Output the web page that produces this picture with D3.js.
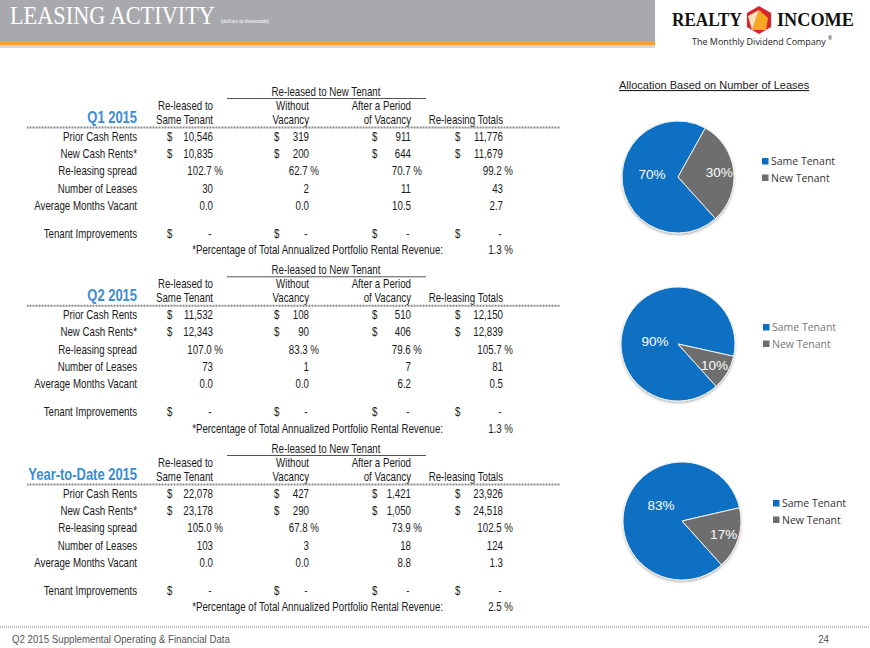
<!DOCTYPE html>
<html>
<head>
<meta charset="utf-8">
<script src="https://cdn.jsdelivr.net/npm/d3@7"></script>
<style>
  html, body { margin: 0; padding: 0; background: #fff; }
  svg { display: block; }
  .tbl { font-family: 'Liberation Sans', Arial, sans-serif; font-size: 12px; fill: #1a1a1a; }
</style>
</head>
<body>
<div id="chart"></div>
<script>
// ---- data (dollars in thousands) ----
var periods = ['Q1 2015', 'Q2 2015', 'Year-to-Date 2015'];
var rowLabels = ['Prior Cash Rents', 'New Cash Rents*', 'Re-leasing spread',
  'Number of Leases', 'Average Months Vacant', 'Tenant Improvements'];
var colHeads = [['Re-leased to', 'Same Tenant'], ['Without', 'Vacancy'],
  ['After a Period', 'of Vacancy'], ['', 'Re-leasing Totals']];
var groupHead = 'Re-leased to New Tenant';

var priorRents = [[10546, 319, 911, 11776], [11532, 108, 510, 12150], [22078, 427, 1421, 23926]];
var newRents = [[10835, 200, 644, 11679], [12343, 90, 406, 12839], [23178, 290, 1050, 24518]];
var spread = [[102.7, 62.7, 70.7, 99.2], [107.0, 83.3, 79.6, 105.7], [105.0, 67.8, 73.9, 102.5]];
var leases = [[30, 2, 11, 43], [73, 1, 7, 81], [103, 3, 18, 124]];
var monthsVacant = [[0.0, 0.0, 10.5, 2.7], [0.0, 0.0, 6.2, 0.5], [0.0, 0.0, 8.8, 1.3]];
var pctRevenue = [1.3, 1.3, 2.5];

var pieLabels = ['Same Tenant', 'New Tenant'];
var pieColors = ['#0a6fc2', '#6e6e6e'];

// ---- layout ----
var width = 870, height = 648;
var narrow = 0.81; // the table font is a narrow Arial
var sectionOffset = [0, 178.3, 357];
var colRight = [213, 309, 411, 503];
var colDollar = [167, 274, 372, 455];
var colPct = [223, 319, 422, 513];
var pies = [
  {cx: 678, cy: 177, r: 56, big: [-26, -3], legX: 762, legY: 165, legColor: '#333'},
  {cx: 678, cy: 344, r: 57, big: [-23, -3], legX: 763, legY: 331, legColor: '#777'},
  {cx: 682, cy: 521, r: 59, big: [-21, -16], legX: 773, legY: 507, legColor: '#333'}
];

var fmtInt = d3.format(',');
var fmt1 = d3.format('.1f');

// narrow text placed at (x, y)
function ntext(sel, x, y, str, anchor) {
  return sel.append('text')
      .attr('transform', 'translate(' + x + ',' + y + ') scale(' + narrow + ',1)')
      .attr('text-anchor', anchor || 'start')
      .text(str);
}

// squeeze a left-anchored text so it spans w pixels
function fitText(t, x, y, w) {
  var len = t.node().getComputedTextLength();
  t.attr('transform', 'translate(' + x + ',' + y + ') scale(' + (w / len) + ',1)');
  return t;
}

var svg = d3.select('#chart').append('svg')
    .attr('width', width)
    .attr('height', height);

var defs = svg.append('defs');
defs.append('filter').attr('id', 'shadow')
    .attr('x', '-20%').attr('y', '-20%').attr('width', '140%').attr('height', '140%')
  .append('feDropShadow')
    .attr('dx', 0).attr('dy', 1.5).attr('stdDeviation', 1.2)
    .attr('flood-color', '#000').attr('flood-opacity', 0.3);

// ---- header band ----
svg.append('rect').attr('x', 0).attr('y', 0).attr('width', 655).attr('height', 41).attr('fill', '#a8a9ac');
svg.append('rect').attr('x', 0).attr('y', 41).attr('width', 655).attr('height', 4).attr('fill', '#f5a236');
svg.append('rect').attr('x', 0).attr('y', 45).attr('width', 655).attr('height', 3).attr('fill', '#d6d6d6');
fitText(svg.append('text')
    .attr('font-family', 'Liberation Serif, serif').attr('font-size', 25)
    .attr('fill', '#fff')
    .text('LEASING ACTIVITY'), 10, 24, 205);
svg.append('text')
    .attr('x', 221).attr('y', 23)
    .attr('font-family', 'Liberation Serif, serif').attr('font-size', 5.5)
    .attr('fill', '#fff')
    .text('(dollars in thousands)');

// logo
var logo = svg.append('g').attr('font-family', 'Liberation Serif, serif').attr('font-weight', 'bold').attr('fill', '#111');
fitText(logo.append('text').attr('font-size', 19).text('REALTY'), 672, 26, 70);
fitText(logo.append('text').attr('font-size', 19).text('INCOME'), 777, 26, 77);
var hex = d3.range(6).map(function(i) {
  var a = Math.PI / 3 * i;
  return [759 + 14 * Math.sin(a), 20 - 14 * Math.cos(a)];
});
svg.append('polygon').attr('points', hex.join(' ')).attr('fill', '#d7262b');
svg.append('polygon').attr('points', [[759, 10], [752, 30], [766, 30], [768, 18]].join(' ')).attr('fill', '#f7a823');
svg.append('polygon').attr('points', [[759, 10], [752, 30], [748, 16]].join(' ')).attr('fill', '#fbe3b8');
fitText(svg.append('text')
    .attr('font-family', 'Open Sans, sans-serif').attr('font-size', 9).attr('fill', '#222')
    .text('The Monthly Dividend Company'), 692, 45, 134);
svg.append('text').attr('x', 828).attr('y', 40)
    .attr('font-family', 'Open Sans, sans-serif').attr('font-size', 5).attr('fill', '#222').text('®');

// ---- tables ----
var rowY = d3.scaleLinear().domain([0, 1]).range([140.7, 158]);

periods.forEach(function(period, p) {
  var g = svg.append('g').attr('class', 'tbl').attr('transform', 'translate(0,' + sectionOffset[p] + ')');

  ntext(g, 326, 96, groupHead, 'middle');
  g.append('line').attr('x1', 227).attr('x2', 426).attr('y1', 98.5).attr('y2', 98.5)
      .attr('stroke', '#555').attr('stroke-width', 1);

  colHeads.forEach(function(h, c) {
    ntext(g, colRight[c], 110, h[0], 'end');
    ntext(g, colRight[c], 123.5, h[1], 'end');
  });

  ntext(g, 137, 123, period, 'end')
      .attr('font-size', 16).attr('font-weight', 'bold')
      .style('fill', '#3a8dd0');

  g.append('line').attr('x1', 27).attr('x2', 560).attr('y1', 127.5).attr('y2', 127.5)
      .attr('stroke', '#8a8a8a').attr('stroke-width', 2).attr('stroke-dasharray', '1,0.5');

  var rows = [
    {vals: priorRents[p], dollar: true, f: fmtInt},
    {vals: newRents[p], dollar: true, f: fmtInt},
    {vals: spread[p], pct: true, f: fmt1},
    {vals: leases[p], f: fmtInt},
    {vals: monthsVacant[p], f: fmt1},
    {vals: [null, null, null, null], dollar: true, f: function() { return '-'; }}
  ];

  rows.forEach(function(row, i) {
    var y = rowY(i) + (i === 5 ? 10.5 : 0);
    ntext(g, 137, y, rowLabels[i], 'end');
    row.vals.forEach(function(d, c) {
      var x = row.pct ? colPct[c] : colRight[c] - (d === null ? 1.5 : 0);
      ntext(g, x, y, row.f(d) + (row.pct ? ' %' : ''), 'end');
      if (row.dollar) ntext(g, colDollar[c], y, '$');
    });
  });

  ntext(g, 443, 254.3, '*Percentage of Total Annualized Portfolio Rental Revenue:', 'end');
  ntext(g, colPct[3], 254.3, fmt1(pctRevenue[p]) + ' %', 'end');
});

// ---- pies ----
svg.append('text').attr('x', 619).attr('y', 89)
    .attr('font-family', 'Liberation Sans, Arial, sans-serif').attr('font-size', 11)
    .attr('fill', '#222').attr('text-decoration', 'underline')
    .text('Allocation Based on Number of Leases');

var startA = 138 * Math.PI / 180;
var pie = d3.pie().sort(null).value(function(d) { return d; })
    .startAngle(startA).endAngle(startA + 2 * Math.PI);

pies.forEach(function(cfg, p) {
  var values = [leases[p][0], leases[p][1] + leases[p][2]];
  var total = d3.sum(values);
  var arcs = pie(values);
  var arc = d3.arc().innerRadius(0).outerRadius(cfg.r);
  var labelArc = d3.arc().innerRadius(cfg.r * 0.74).outerRadius(cfg.r * 0.74);

  var g = svg.append('g').attr('transform', 'translate(' + cfg.cx + ',' + cfg.cy + ')');
  var slices = g.append('g').attr('filter', 'url(#shadow)');
  slices.selectAll('path').data(arcs).enter().append('path')
      .attr('d', arc)
      .attr('fill', function(d, i) { return pieColors[i]; })
      .attr('stroke', '#f2f2f2').attr('stroke-width', 1);

  g.selectAll('text.lbl').data(arcs).enter().append('text')
      .attr('class', 'lbl')
      .attr('transform', function(d, i) {
        var c = i === 0 ? cfg.big : labelArc.centroid(d);
        return 'translate(' + c[0] + ',' + c[1] + ')';
      })
      .attr('text-anchor', 'middle').attr('dy', '0.35em')
      .attr('font-family', 'Liberation Sans, Arial, sans-serif').attr('font-size', 13.5)
      .attr('fill', '#fff')
      .text(function(d) { return Math.round(d.value / total * 100) + '%'; });

  var leg = svg.append('g').attr('font-family', 'Open Sans, sans-serif').attr('font-size', 10.5);
  pieLabels.forEach(function(name, i) {
    var y = cfg.legY + i * 16.5;
    leg.append('rect').attr('x', cfg.legX).attr('y', y - 7).attr('width', 6.5).attr('height', 6.5)
        .attr('fill', pieColors[i]);
    leg.append('text').attr('x', cfg.legX + 9).attr('y', y).attr('fill', cfg.legColor).text(name);
  });
});

// ---- footer ----
svg.append('line').attr('x1', 0).attr('x2', width).attr('y1', 627).attr('y2', 627)
    .attr('stroke', '#bbb').attr('stroke-width', 2).attr('stroke-dasharray', '1,1');
var foot = svg.append('g').attr('font-family', 'Liberation Sans, Arial, sans-serif')
    .attr('font-size', 11).attr('fill', '#555');
foot.append('text').attr('transform', 'translate(12,643) scale(0.88,1)')
    .text('Q2 2015 Supplemental Operating & Financial Data');
foot.append('text').attr('transform', 'translate(829,643) scale(0.88,1)')
    .attr('text-anchor', 'end').text('24');
</script>
</body>
</html>
